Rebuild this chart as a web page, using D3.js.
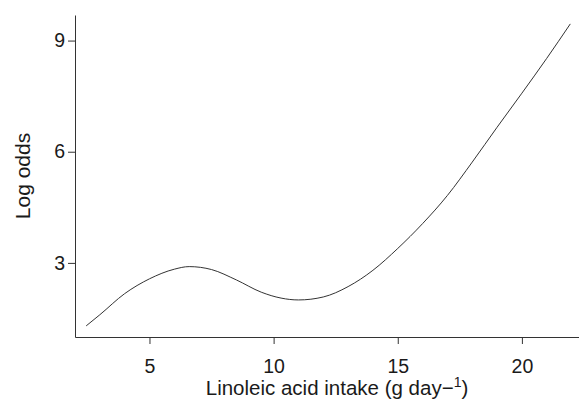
<!DOCTYPE html>
<html>

<head>
  <meta charset="UTF-8">
  <title>Log odds vs linoleic acid intake</title>
  <script src="https://d3js.org/d3.v7.min.js"></script>
  <style>
    body {
      margin: 0;
      background: #fff;
    }

    svg text {
      font-family: "Liberation Sans", Arial, sans-serif;
      fill: #1a1a1a;
    }
  </style>
</head>

<body>
  <svg></svg>

  <script>
    // values
    let intake = [2.45, 3.0, 4.0, 5.0, 6.0, 6.6, 7.5, 8.5, 9.5, 10.3, 11.0, 12.0, 13.0, 14.0, 15.0, 16.0, 17.0, 18.0, 19.0, 20.0, 21.0, 21.95];
    let logOdds = [1.30, 1.60, 2.17, 2.57, 2.83, 2.90, 2.82, 2.54, 2.21, 2.05, 2.00, 2.08, 2.36, 2.80, 3.39, 4.06, 4.82, 5.72, 6.66, 7.58, 8.52, 9.45];
    let xTicks = [5, 10, 15, 20];
    let yTicks = [3, 6, 9];

    let width = 579,
      height = 400;

    let svg = d3.select("svg")
      .attr("width", width)
      .attr("height", height);

    let x = d3.scaleLinear().domain([2, 22.3]).range([75, 579]);
    let y = d3.scaleLinear().domain([1.0, 9.69]).range([337, 15]);

    let xAxis = svg.append("g")
      .attr("transform", "translate(0,337)")
      .call(d3.axisBottom(x).tickValues(xTicks).tickSize(7).tickSizeOuter(0).tickPadding(15));

    let yAxis = svg.append("g")
      .attr("transform", "translate(75,0)")
      .call(d3.axisLeft(y).tickValues(yTicks).tickSize(7).tickSizeOuter(0).tickPadding(3));

    [xAxis, yAxis].forEach(g => {
      g.selectAll("path, line").attr("stroke", "#333");
      g.selectAll("text").attr("font-size", 19.5).attr("fill", "#1a1a1a");
    });

    let line = d3.line()
      .x((d, i) => x(intake[i]))
      .y(d => y(d))
      .curve(d3.curveMonotoneX);

    svg.append("path")
      .datum(logOdds)
      .attr("d", line)
      .attr("fill", "none")
      .attr("stroke", "#333")
      .attr("stroke-width", 1);

    // axis titles
    let xt = svg.append("text")
      .attr("x", 337)
      .attr("y", 395)
      .attr("text-anchor", "middle")
      .attr("font-size", 20.5);
    xt.append("tspan").text("Linoleic acid intake (g day\u2212");
    xt.append("tspan").attr("font-size", 14).attr("dy", -8).text("1");
    xt.append("tspan").attr("dy", 8).text(")");

    svg.append("text")
      .attr("transform", "translate(30,176) rotate(-90)")
      .attr("text-anchor", "middle")
      .attr("font-size", 21)
      .text("Log odds");
  </script>

</body>

</html>
